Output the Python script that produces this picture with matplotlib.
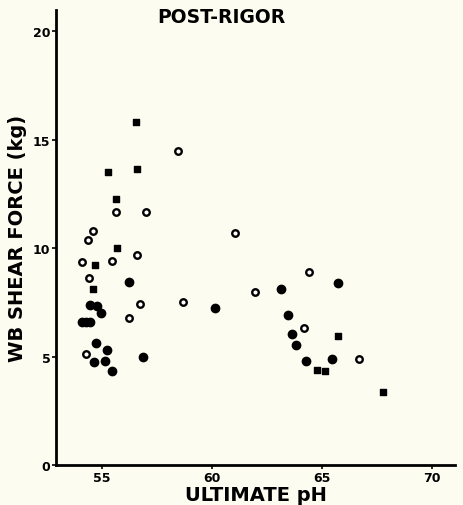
import matplotlib
matplotlib.use("Agg")
import matplotlib.pyplot as plt

# ultimate pH vs WB shear force (kg)
open_ph = [5.847, 5.564, 5.700, 5.460, 5.438, 5.658, 5.408, 5.547, 5.442,
           5.673, 5.870, 5.624, 5.426, 6.105, 6.195, 6.442, 6.418, 6.670]
open_kg = [14.5, 11.65, 11.65, 10.8, 10.38, 9.69, 9.38, 9.41, 8.62,
           7.42, 7.5, 6.8, 5.11, 10.68, 7.96, 8.91, 6.33, 4.87]

filled_ph = [5.623, 5.445, 5.476, 5.497, 5.409, 5.427, 5.445, 5.473, 5.521,
             5.464, 5.515, 5.544, 5.685, 6.014, 6.312, 6.571, 6.345, 6.365,
             6.382, 6.427, 6.544]
filled_kg = [8.42, 7.37, 7.34, 7.0, 6.58, 6.58, 6.58, 5.61, 5.31,
             4.73, 4.78, 4.35, 5.0, 7.22, 8.11, 8.39, 6.93, 6.04,
             5.52, 4.78, 4.87]

cross_ph = [5.655, 5.529, 5.658, 5.562, 5.567, 5.468, 5.460, 6.573, 6.476,
            6.515, 6.777]
cross_kg = [15.8, 13.5, 13.64, 12.29, 10.03, 9.23, 8.14, 5.96, 4.39,
            4.33, 3.36]

xticks = [5.5, 6.0, 6.5, 7.0]
xticklabels = ["55", "60", "65", "70"]
yticks = [0, 5, 10, 15, 20]

bg = "#fdfcf0"
fig = plt.figure(figsize=(4.64, 5.06), dpi=100, facecolor=bg)
ax = fig.add_axes([0.1207, 0.079, 0.86, 0.90], facecolor=bg)

ax.scatter(open_ph, open_kg, s=22, facecolors="white", edgecolors="black",
           linewidths=1.7, zorder=3)
ax.scatter(filled_ph, filled_kg, s=36, color="black", zorder=3)
ax.scatter(cross_ph, cross_kg, s=14, marker="s", color="black", zorder=3)

ax.set_xlim(5.291, 7.105)
ax.set_ylim(0, 21.0)

for side in ["top", "right"]:
    ax.spines[side].set_visible(False)
for side in ["left", "bottom"]:
    ax.spines[side].set_linewidth(2)

ax.set_xticks(xticks)
ax.set_xticklabels(xticklabels, fontsize=9, fontweight="bold")
ax.set_yticks(yticks)
ax.set_yticklabels([str(v) for v in yticks], fontsize=9, fontweight="bold")
ax.tick_params(length=3, width=1.2, pad=1)

ax.set_xlabel("ULTIMATE pH", fontsize=14, fontweight="bold", labelpad=1)
ax.set_ylabel("WB SHEAR FORCE (kg)", fontsize=14, fontweight="bold", labelpad=4)
fig.text(0.478, 0.965, "POST-RIGOR", ha="center", va="center",
         fontsize=13.5, fontweight="bold")

fig.savefig("out.png", dpi=100, facecolor=bg)
